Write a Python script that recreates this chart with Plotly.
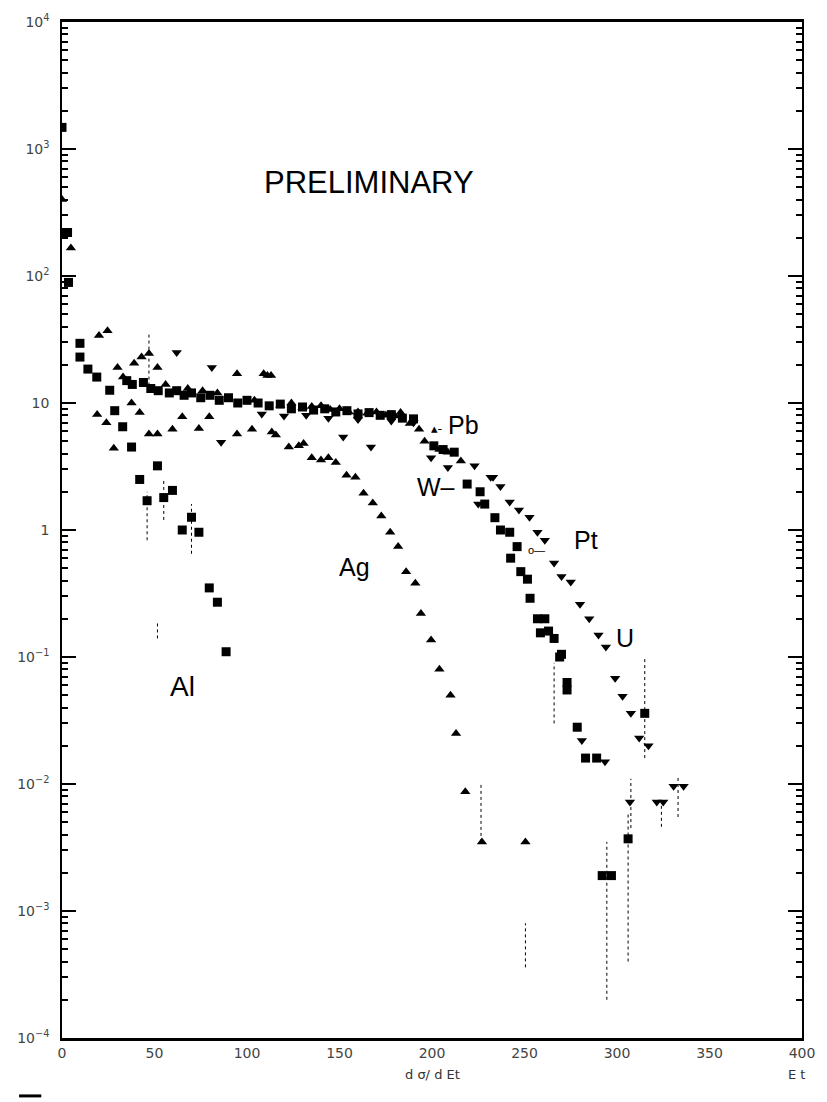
import plotly.graph_objects as go

# ---------------- data ----------------
al_x = [0, 1, 3, 3.5, 9.7, 9.7, 14, 18.8, 25.8, 28.5, 32.8, 37.6, 42, 46, 51.6, 55, 59.7, 65, 70, 74, 79.6, 84, 88.7]
al_y = [1480, 220, 220, 89, 29.5, 23, 18.5, 16, 12.6, 8.7, 6.5, 4.5, 2.5, 1.7, 3.2, 1.8, 2.05, 1.0, 1.26, 0.96, 0.35, 0.27, 0.11]

ag_x = [0, 4.8, 19, 24, 28, 37.6, 42, 47, 51.6, 59.7, 65, 74, 79.6, 94.6, 102.7, 113.4, 115.6, 122.6, 128, 130.6,
        135, 140, 144, 148, 153.8, 158.6, 163, 168, 172.6, 177.4, 181.7, 186, 191, 194, 199.5, 204, 210, 213,
        218, 227, 250.5]
ag_y = [400, 166, 8.1, 7.0, 4.4, 10, 8.4, 5.7, 5.7, 6.2, 7.8, 6.3, 7.8, 5.7, 6.2, 5.9, 5.6, 4.5, 4.6, 4.8,
        3.7, 3.55, 3.7, 3.4, 2.7, 2.6, 1.95, 1.63, 1.29, 0.96, 0.74, 0.47, 0.38, 0.22, 0.136, 0.08, 0.05, 0.025,
        0.0087, 0.0035, 0.0035]

pb_x = [20, 24.6, 30, 33, 39, 43, 47, 51.6, 56, 68, 76, 84, 94.6, 104, 109, 111, 113, 118, 124, 130, 135, 140,
        145, 150, 155, 160, 165, 170, 175, 180, 183, 188, 193, 196, 204, 208.6, 215.6]
pb_y = [34, 37, 19, 16, 20.6, 23, 24.5, 19, 14, 13, 12.5, 12, 17, 10.5, 17, 16.5, 16.5, 9.6, 10, 9.2, 9.4, 9.5,
        8.9, 9.0, 8.5, 8.5, 8.3, 8.5, 8.0, 7.9, 8.4, 6.9, 6.2, 5.0, 4.3, 4.1, 3.5]

w_x = [35, 38, 44, 48, 52, 58, 62, 66, 70, 75, 80, 85, 90, 95, 100, 106, 112, 118, 124, 130, 136, 142, 148, 154,
       160, 166, 172, 178, 184, 190, 201, 206, 212, 219, 226, 228.5, 234, 237, 242, 246, 258.6, 261, 266, 270,
       273, 278.5, 283, 289, 292, 297]
w_y = [15, 14, 14.5, 13, 12.5, 12, 12.5, 11.5, 12, 11, 11.5, 10.5, 11, 10, 10.5, 10, 9.5, 9.8, 9, 9.3, 8.8, 9, 8.5,
       8.7, 8.2, 8.4, 8, 8.1, 7.6, 7.5, 4.6, 4.3, 4.1, 2.3, 2.0, 1.6, 1.25, 1.0, 0.96, 0.74, 0.155, 0.2, 0.14,
       0.105, 0.063, 0.028, 0.016, 0.016, 0.0019, 0.0019]

pt_x = [242.5, 248, 251.6, 253, 257, 263, 269, 273, 306, 315]
pt_y = [0.6, 0.47, 0.41, 0.29, 0.2, 0.16, 0.1, 0.055, 0.0037, 0.036]

u_x = [62, 81, 86, 108, 120, 132, 144, 152, 160, 167, 178, 190, 199.5, 208.6, 223, 225, 231.7, 233, 237, 242,
       247, 252.7, 257, 261, 266, 270, 275, 280, 281, 285, 290, 293.5, 294, 299, 303, 307.5, 312, 317, 307,
       321.5, 325, 330.6, 336]
u_y = [25, 19, 4.9, 8.2, 7.9, 8.0, 7.6, 5.4, 7.4, 4.5, 7.2, 7.0, 3.7, 3.1, 3.2, 1.6, 2.6, 2.6, 2.2, 1.66,
       1.44, 1.26, 0.96, 0.83, 0.55, 0.43, 0.39, 0.26, 0.022, 0.2, 0.149, 0.015, 0.12, 0.068, 0.049, 0.036,
       0.023, 0.02, 0.0072, 0.0072, 0.0072, 0.0096, 0.0096]

# vertical error segments: x, low, high
err_x = [47, 46, 55, 70, 51.6, 226.5, 250.5, 294.5, 306, 307.5, 315, 324, 333, 266]
err_lo = [12.3, 0.83, 1.2, 0.65, 0.14, 0.0035, 0.00036, 0.0002, 0.0004, 0.0045, 0.016, 0.0046, 0.0055, 0.03]
err_hi = [35, 2.0, 2.5, 1.6, 0.19, 0.01, 0.0008, 0.0035, 0.006, 0.011, 0.1, 0.0072, 0.0115, 0.09]

y_tickvals = [1e-4, 1e-3, 1e-2, 1e-1, 1, 10, 1e2, 1e3, 1e4]
y_ticktext = ["10<sup>−4</sup>", "10<sup>−3</sup>", "10<sup>−2</sup>", "10<sup>−1</sup>", "1", "10",
              "10<sup>2</sup>", "10<sup>3</sup>", "10<sup>4</sup>"]
x_tickvals = [0, 50, 100, 150, 200, 250, 300, 350, 400]

# ---------------- figure ----------------
fig = go.Figure()

ex, ey = [], []
for xv, lo, hi in zip(err_x, err_lo, err_hi):
    ex += [xv, xv, None]
    ey += [lo, hi, None]
fig.add_trace(go.Scatter(x=ex, y=ey, mode="lines", line=dict(color="black", width=1, dash="dot"),
                         showlegend=False, hoverinfo="skip"))

def add(x, y, sym, name):
    fig.add_trace(go.Scatter(x=x, y=y, mode="markers", name=name, showlegend=False,
                             marker=dict(symbol=sym, size=9, color="black", line=dict(width=0))))

add(al_x, al_y, "square", "Al")
add(ag_x, ag_y, "triangle-up", "Ag")
add(pb_x, pb_y, "triangle-up", "Pb")
add(w_x, w_y, "square", "W")
add(pt_x, pt_y, "square", "Pt")
add(u_x, u_y, "triangle-down", "U")

FAM = "Liberation Sans, Arial, sans-serif"
lab_font = dict(family=FAM, size=25, color="black")
annos = [
    dict(x=166, y=2.74, text="PRELIMINARY", font=dict(family=FAM, size=31, color="black")),
    dict(x=202.5, y=0.80, text="▴-", font=dict(family="DejaVu Sans", size=13, color="black")),
    dict(x=217, y=0.83, text="Pb", font=lab_font),
    dict(x=202, y=0.34, text="W–", font=lab_font),
    dict(x=256.5, y=-0.16, text="o—", font=dict(family=FAM, size=11, color="black")),
    dict(x=283, y=-0.08, text="Pt", font=lab_font),
    dict(x=304.3, y=-0.85, text="U", font=lab_font),
    dict(x=158, y=-0.29, text="Ag", font=lab_font),
    dict(x=65, y=-1.23, text="Al", font=dict(family=FAM, size=28, color="black")),
]
for a in annos:
    fig.add_annotation(xref="x", yref="y", showarrow=False, xanchor="center", yanchor="middle", **a)

fig.add_annotation(xref="paper", yref="paper", x=0.5, y=-0.036, text="d σ/ d Et", showarrow=False,
                   font=dict(family="DejaVu Sans", size=13, color="#333"), xanchor="center", yanchor="middle")
fig.add_annotation(xref="paper", yref="paper", x=0.992, y=-0.036, text="E t", showarrow=False,
                   font=dict(family="DejaVu Sans", size=13, color="#333"), xanchor="center", yanchor="middle")
fig.add_shape(type="line", xref="paper", yref="paper", x0=-0.058, x1=-0.028, y0=-0.057, y1=-0.057,
              line=dict(color="black", width=3))

fig.update_layout(
    width=827, height=1102,
    margin=dict(l=62, r=21, t=22, b=64),
    paper_bgcolor="white", plot_bgcolor="white",
    showlegend=False,
    xaxis=dict(range=[0, 400], tickmode="array", tickvals=x_tickvals, ticks="", showgrid=False, zeroline=False,
               showline=True, linecolor="black", linewidth=2.5, mirror=True,
               tickfont=dict(family="DejaVu Sans", size=14, color="#444")),
    yaxis=dict(type="log", range=[-4, 4], tickmode="array", tickvals=y_tickvals, ticktext=y_ticktext,
               ticks="inside", ticklen=14, tickwidth=1.5, tickcolor="black", showgrid=False, zeroline=False,
               showline=True, linecolor="black", linewidth=1.5, mirror="allticks", ticklabelstandoff=8,
               minor=dict(ticks="inside", ticklen=6, tickwidth=1.5, tickcolor="black", dtick="D1", showgrid=False),
               tickfont=dict(family="DejaVu Sans", size=14, color="#444")),
)

fig.write_html("out.html")
